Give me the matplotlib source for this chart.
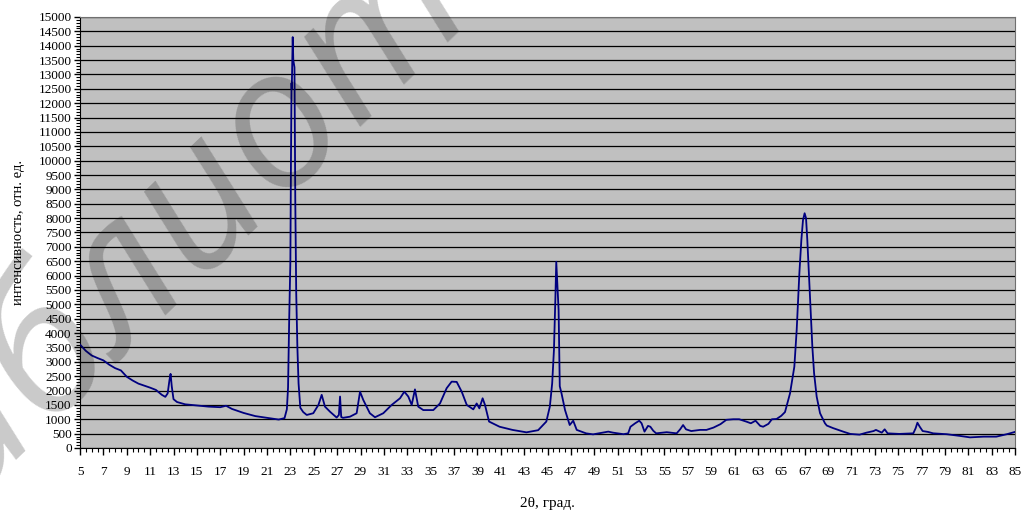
import numpy as np
import matplotlib
matplotlib.use('Agg')
import matplotlib.pyplot as plt
from matplotlib.ticker import MultipleLocator, FixedLocator

# данные дифрактограммы (2θ, интенсивность)
tth = [5.0, 5.5, 6.0, 6.5, 7.0, 7.5, 8.0, 8.5, 9.0, 9.5, 10.0, 10.5, 11.0, 11.5, 12.0,
       12.3, 12.5, 12.65, 12.75, 12.85, 13.0, 13.3, 14.0, 15.0, 16.0, 17.0, 17.5, 18.0,
       19.0, 20.0, 21.0, 22.0, 22.5, 22.7, 22.8, 22.9, 23.0, 23.05, 23.1, 23.12, 23.2,
       23.25, 23.35, 23.42, 23.5, 23.6, 23.7, 23.85, 24.1, 24.4, 24.96, 25.4, 25.68,
       25.96, 26.4, 26.96, 27.15, 27.25, 27.35, 27.5, 28.1, 28.67, 28.96, 29.24, 29.8,
       30.24, 30.95, 31.67, 32.38, 32.75, 33.09, 33.38, 33.66, 33.94, 34.37, 35.23, 35.8,
       36.37, 36.8, 37.23, 37.66, 38.09, 38.65, 38.94, 39.17, 39.45, 39.65, 40.0,
       40.9, 42.0, 43.2, 44.2, 44.9, 45.2, 45.4, 45.55, 45.67, 45.75, 45.87, 45.95,
       46.05, 46.2, 46.5, 46.9, 47.2, 47.5, 48.3, 48.9, 49.5, 50.2,
       50.6, 51.5, 51.9, 52.1, 52.5, 52.85, 53.05, 53.3, 53.6, 53.8, 54.05, 54.3, 55.2,
       56.05, 56.35, 56.6, 56.85, 57.3, 58.06, 58.6, 59.2, 59.8, 60.3, 60.9, 61.4, 62.0,
       62.4, 62.8, 63.2, 63.45, 63.9, 64.2, 64.6, 65.0, 65.32, 65.75, 66.12, 66.32, 66.43,
       66.55, 66.72, 66.86, 67.0, 67.12, 67.23, 67.38, 67.52, 67.66, 67.81, 68.03, 68.32,
       68.74, 68.9, 69.45, 70.3, 70.9, 71.7, 72.3, 72.9, 73.1, 73.6, 73.85, 74.1, 75.1,
       76.3, 76.5, 76.65, 76.85, 77.1, 77.55, 78.0, 79.15, 80.3, 81.15, 82.3, 83.4, 84.3,
       85.0]
intensity = [3600, 3380, 3220, 3130, 3050, 2900, 2780, 2700, 2480, 2350, 2240, 2170, 2100, 2020, 1850,
             1780, 1900, 2350, 2580, 2150, 1700, 1600, 1520, 1480, 1440, 1420, 1470, 1360,
             1220, 1110, 1050, 990, 1040, 1350, 2100, 4500, 6500, 10000, 12700, 12500, 14300,
             13500, 13250, 8600, 5400, 3500, 2250, 1400, 1250, 1150, 1210, 1500, 1850,
             1440, 1260, 1060, 1150, 1790, 1080, 1050, 1090, 1210, 1960, 1670, 1210,
             1070, 1210, 1500, 1730, 1960, 1790, 1500, 2040, 1440, 1320, 1320, 1550,
             2080, 2310, 2300, 1960, 1500, 1345, 1550, 1380, 1730, 1500, 920,
             740, 630, 545, 620, 920, 1440, 2250, 3400, 5150, 6480, 5500, 4800,
             2150, 1900, 1320, 800, 950, 630, 510, 475, 520, 570,
             535, 480, 510, 740, 860, 950, 860, 570, 770, 740, 600, 510, 550,
             510, 650, 800, 650, 590, 630, 630, 710, 830, 980, 1000, 1000, 920,
             860, 950, 770, 740, 840, 1000, 1010, 1120, 1250, 1900, 2830, 4100, 5030,
             6080, 7240, 7930, 8170, 8000, 7240, 5960, 4690, 3530, 2600, 1790, 1210,
             860, 780, 690, 570, 490, 465, 535, 590, 630, 535, 650, 510, 490,
             510, 690, 880, 740, 590, 560, 510, 480, 420, 370, 395, 395, 480,
             560]
assert len(tth) == len(intensity)

x_ticks = np.arange(5, 86, 2)

plt.rcParams['font.family'] = ['Liberation Serif', 'DejaVu Serif']

fig = plt.figure(figsize=(10.21, 5.13), dpi=100)
ax = fig.add_axes([80/1021, 1 - 448/513, 935/1021, 431/513])
ax.set_facecolor('#c0c0c0')

ax.plot(tth, intensity, color='#000080', lw=1.3, zorder=3)

ax.set_xlim(5, 85)
ax.set_ylim(0, 15000)
ax.xaxis.set_major_locator(FixedLocator(x_ticks))
ax.xaxis.set_minor_locator(MultipleLocator(0.5))
ax.yaxis.set_major_locator(MultipleLocator(500))
ax.yaxis.set_minor_locator(MultipleLocator(100))
ax.tick_params(axis='x', which='major', length=5, width=1, pad=8, labelsize=9.5)
ax.tick_params(axis='x', which='minor', length=3, width=0.8)
ax.tick_params(axis='y', which='major', length=4, width=1, pad=2, labelsize=9.5)
ax.tick_params(axis='y', which='minor', length=3, width=0.8)

ax.grid(axis='y', which='major', color='black', lw=0.9)
ax.set_axisbelow(True)
for s in ['top', 'right']:
    ax.spines[s].set_color('#707070')
ax.spines['left'].set_color('black')
ax.spines['bottom'].set_color('black')

ax.set_xlabel('2θ, град.', fontsize=11, labelpad=14)
ax.set_ylabel('интенсивность, отн. ед.', fontsize=10.5, labelpad=10)

# водяной знак
fig.text(255/1021, 1 - 150/513, 'библиотека', fontsize=140, style='italic',
         family=['Open Sans', 'DejaVu Sans'], color='black', alpha=0.21,
         rotation=44, ha='center', va='center', zorder=10)

fig.savefig('out.png', dpi=100)
